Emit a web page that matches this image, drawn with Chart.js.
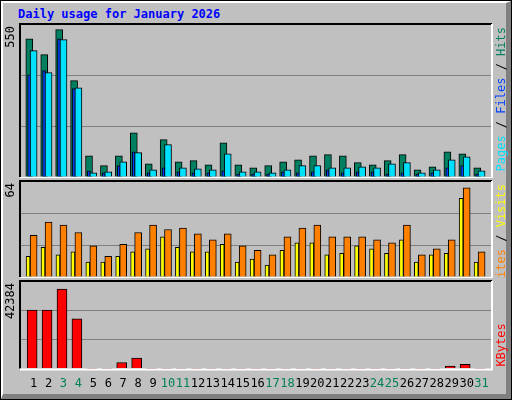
<!DOCTYPE html>
<html>
<head>
<meta charset="utf-8">
<script src="https://cdn.jsdelivr.net/npm/chart.js@4/dist/chart.umd.min.js"></script>
<style>
  body { margin: 0; background: #fff; }
  #frame { position: absolute; left: 0; top: 0; width: 510px; height: 398px; border: 1px solid #000; background: #c0c0c0; }
  #inner { position: absolute; left: 0; top: 0; width: 503px; height: 391px; border-left: 2px solid #fff; border-top: 2px solid #fff; border-right: 5px solid #808080; border-bottom: 5px solid #808080; }
  #title { position: absolute; left: 18px; top: 7px; font: bold 12px "DejaVu Sans Mono", monospace; color: #0000ff; }
  canvas { position: absolute; left: 0; }
</style>
</head>
<body>
<div id="frame"><div id="inner"></div></div>
<div id="title">Daily usage for January 2026</div>
<canvas id="c1" style="top:20px"></canvas>
<canvas id="c2" style="top:177px"></canvas>
<canvas id="c3" style="top:277px"></canvas>
<script>
// Data
var days = [];
for (var d = 1; d <= 31; d++) days.push(d);
var weekend = [3, 4, 10, 11, 17, 18, 24, 25, 31];

var hits  = [500,443,533,349,77,41,77,160,48,135,55,59,44,124,44,33,41,55,62,77,81,77,52,44,59,81,26,37,91,84,33];
var files = [457,378,497,323,15,19,55,88,26,117,33,30,26,84,19,19,15,26,41,41,33,33,37,33,48,52,15,26,62,73,22];
var pages = [370,385,500,320,22,15,41,91,15,33,19,15,15,22,11,11,11,19,15,19,26,15,19,19,11,15,11,15,33,41,11];

var visits = [28,37,35,30,21,14,22,30,35,32,33,29,25,29,21,18,15,27,33,35,27,27,27,25,23,35,15,19,25,60,17];
var sites  = [14,20,15,17,10,10,14,17,19,27,20,17,17,22,10,12,8,18,23,23,15,16,21,19,16,25,10,15,16,53,10];

var kbytes = [28700,28700,38960,24400,100,100,3000,5140,100,100,100,100,100,100,100,100,100,100,100,100,100,100,100,100,100,100,100,100,1280,2140,100];

var maxHits = 550, maxVisits = 64, maxKbytes = 42384;

function pts(values, off) {
  return values.map(function (v, i) { return { x: days[i] + off, y: v }; });
}

// background, frame and rotated labels
var panelPlugin = {
  id: 'panel',
  beforeDraw: function (chart) {
    var a = chart.chartArea, c = chart.ctx;
    c.save();
    c.fillStyle = '#c0c0c0';
    c.fillRect(a.left, a.top, a.right - a.left, a.bottom - a.top);
    c.restore();
  },
  afterDraw: function (chart, args, o) {
    var a = chart.chartArea, c = chart.ctx;
    c.save();
    c.lineWidth = 2;
    c.strokeStyle = '#000';
    c.beginPath();
    c.moveTo(a.left - 1, a.bottom); c.lineTo(a.left - 1, a.top - 1); c.lineTo(a.right + 1, a.top - 1);
    c.stroke();
    c.strokeStyle = '#fff';
    c.beginPath();
    c.moveTo(a.right + 1, a.top - 1); c.lineTo(a.right + 1, a.bottom + 1); c.lineTo(a.left - 1, a.bottom + 1);
    c.stroke();
    c.font = '12px "DejaVu Sans Mono", monospace';
    // max value at left
    c.save();
    c.translate(a.left - 4, a.top + 1);
    c.rotate(-Math.PI / 2);
    c.textAlign = 'right';
    c.textBaseline = 'bottom';
    c.fillStyle = '#000';
    c.fillText(String(chart.scales.y.max), 0, 0);
    c.restore();
    // coloured title at right
    c.save();
    c.translate(a.right + 5, a.bottom);
    c.rotate(-Math.PI / 2);
    c.textBaseline = 'top';
    var total = 0;
    o.parts.forEach(function (p) { total += c.measureText(p[0]).width; });
    var x = (a.bottom - a.top) - total - 2;
    if (o.bottomAlign) x = 2;
    o.parts.forEach(function (p) {
      c.fillStyle = p[1];
      c.fillText(p[0], x, 0);
      x += c.measureText(p[0]).width;
    });
    c.restore();
    c.restore();
  }
};

function baseOptions(max, padBottom, showX, parts, bottomAlign) {
  return {
    responsive: false,
    animation: false,
    layout: { padding: { left: 21, right: 21, top: 5, bottom: padBottom } },
    plugins: { legend: { display: false }, tooltip: { enabled: false }, panel: { parts: parts, bottomAlign: bottomAlign } },
    scales: {
      x: {
        type: 'linear', min: 0.155, max: 31.63, offset: false,
        display: showX,
        border: { display: false },
        grid: { display: false, drawTicks: false },
        afterBuildTicks: function (s) { s.ticks = days.map(function (v) { return { value: v }; }); },
        ticks: {
          autoSkip: false, maxRotation: 0, padding: 8,
          font: { family: '"DejaVu Sans Mono", monospace', size: 12 },
          color: function (ctx) { return weekend.indexOf(ctx.tick.value) >= 0 ? '#00805a' : '#000'; },
          callback: function (v) { return String(v); }
        }
      },
      y: {
        min: 0, max: max,
        border: { display: false },
        grid: { lineWidth: 1, drawTicks: false,
          color: function (ctx) { return (ctx.tick.value > 0 && ctx.tick.value < max) ? '#808080' : 'rgba(0,0,0,0)'; } },
        ticks: { display: false, stepSize: max / 3, padding: 0 },
        afterFit: function (s) { s.width = 0; }
      }
    }
  };
}

function bar(label, values, off, color, thick) {
  return { label: label, data: pts(values, off), backgroundColor: color, borderColor: '#000', borderWidth: 1, barThickness: thick, grouped: false, borderSkipped: 'bottom' };
}

var c1 = document.getElementById('c1'); c1.width = 512; c1.height = 158;
new Chart(c1, {
  type: 'bar',
  data: { datasets: [
    bar('Files', files, 0, '#00e0ff', 7),
    bar('Pages', pages, -0.3, '#0040ff', 3),
    bar('Hits', hits, -0.29, '#008060', 7)
  ] },
  options: baseOptions(maxHits, 1, false, [['Pages', '#00e0ff'], [' / ', '#000'], ['Files', '#0040ff'], [' / ', '#000'], ['Hits', '#008060']], false),
  plugins: [panelPlugin]
});

var c2 = document.getElementById('c2'); c2.width = 512; c2.height = 101;
new Chart(c2, {
  type: 'bar',
  data: { datasets: [
    bar('Visits', visits, 0, '#ff8000', 7),
    bar('Sites', sites, -0.37, '#ffff00', 4)
  ] },
  options: baseOptions(maxVisits, 1, false, [['Sites', '#ff8000'], [' / ', '#000'], ['Visits', '#ffff00']], false),
  plugins: [panelPlugin]
});

var c3 = document.getElementById('c3'); c3.width = 512; c3.height = 123;
new Chart(c3, {
  type: 'bar',
  data: { datasets: [
    bar('KBytes', kbytes, -0.1, '#ff0000', 10)
  ] },
  options: baseOptions(maxKbytes, 1, true, [['KBytes', '#ff0000']], true),
  plugins: [panelPlugin]
});
</script>
</body>
</html>
